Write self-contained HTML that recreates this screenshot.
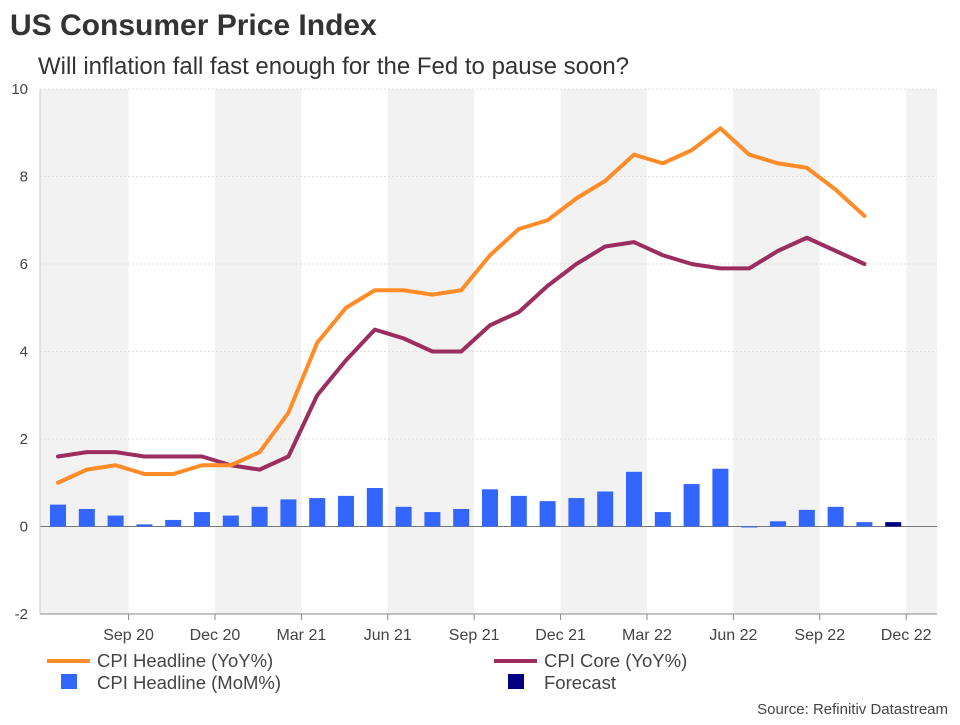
<!DOCTYPE html>
<html><head><meta charset="utf-8"><style>
body{margin:0;background:#fff;font-family:"Liberation Sans",Arial,sans-serif;}
svg text{font-family:"Liberation Sans",Arial,sans-serif;}
</style></head><body>
<svg id="chart" width="960" height="720" xmlns="http://www.w3.org/2000/svg">
<text x="10" y="35" font-size="30" font-weight="bold" fill="#333">US Consumer Price Index</text>
<text x="38" y="74" font-size="24" fill="#333">Will inflation fall fast enough for the Fed to pause soon?</text>
<g id="bands"></g><g id="grid"></g><g id="bars"></g><g id="lines"></g><g id="axes"></g>
<g>
<line x1="47" y1="661" x2="90" y2="661" stroke="#FF8C28" stroke-width="4"/>
<text x="97" y="667" font-size="18.5" fill="#444">CPI Headline (YoY%)</text>
<rect x="61" y="674" width="16" height="15" fill="#3366FF"/>
<text x="97" y="689" font-size="18.5" fill="#444">CPI Headline (MoM%)</text>
<line x1="494" y1="661" x2="537" y2="661" stroke="#9B2D5F" stroke-width="4"/>
<text x="544" y="667" font-size="18.5" fill="#444">CPI Core (YoY%)</text>
<rect x="508" y="674" width="16" height="15" fill="#000080"/>
<text x="544" y="689" font-size="18.5" fill="#444">Forecast</text>
</g>
<text x="948" y="714" font-size="15" fill="#444" text-anchor="end">Source: Refinitiv Datastream</text>
</svg>
<script>
const headlineYoY=[1.0,1.3,1.4,1.2,1.2,1.4,1.4,1.7,2.6,4.2,5.0,5.4,5.4,5.3,5.4,6.2,6.8,7.0,7.5,7.9,8.5,8.3,8.6,9.1,8.5,8.3,8.2,7.7,7.1];
const coreYoY=[1.6,1.7,1.7,1.6,1.6,1.6,1.4,1.3,1.6,3.0,3.8,4.5,4.3,4.0,4.0,4.6,4.9,5.5,6.0,6.4,6.5,6.2,6.0,5.9,5.9,6.3,6.6,6.3,6.0];
const headlineMoM=[0.5,0.4,0.25,0.05,0.15,0.33,0.25,0.45,0.62,0.65,0.7,0.88,0.45,0.33,0.4,0.85,0.7,0.58,0.65,0.8,1.25,0.33,0.97,1.32,-0.02,0.12,0.38,0.45,0.1];
const forecastMoM=[0.1];
const yTicks=[-2,0,2,4,6,8,10];
const xTickLabels=["Sep 20","Dec 20","Mar 21","Jun 21","Sep 21","Dec 21","Mar 22","Jun 22","Sep 22","Dec 22"];
const NS="http://www.w3.org/2000/svg";
const L=40,R=937,T=89,B=614;
const y=v=>526.5-v*43.75;
const x=i=>58+28.8*i;
function mk(tag,attrs,parent){const e=document.createElementNS(NS,tag);for(const k in attrs)e.setAttribute(k,attrs[k]);document.getElementById(parent).appendChild(e);return e;}
const tickX=xTickLabels.map((_,k)=>x(2.45+3*k));
const edges=[L,...tickX,R];
for(let k=0;k<edges.length-1;k+=2){
 const r=mk('rect',{x:edges[k],y:T,width:edges[k+1]-edges[k],height:B-T,fill:'#F2F2F2'},'bands');
 
 
}
yTicks.forEach(v=>{
 const g=mk('line',{x1:L,x2:R,y1:y(v),y2:y(v),stroke:v===0?'#777':'#e0e0e0','stroke-width':1,'stroke-dasharray':v===0?'':'2,2'},'grid');
 
 
 const t=mk('text',{x:28,y:y(v)+5,'font-size':15,fill:'#444','text-anchor':'end'},'axes');
 t.textContent=v;
 
 
});
headlineMoM.forEach((v,i)=>{
 const r=mk('rect',{x:x(i)-8,y:Math.min(y(v),y(0)),width:16,height:Math.max(Math.abs(y(v)-y(0)),1),fill:'#3366FF'},'bars');
 
 
});
forecastMoM.forEach((v,j)=>{
 const i=headlineMoM.length+j;
 const r=mk('rect',{x:x(i)-8,y:Math.min(y(v),y(0)),width:16,height:Math.max(Math.abs(y(v)-y(0)),1),fill:'#000080'},'bars');
 
 
});
function line(data,color,name){
 const p=mk('polyline',{points:data.map((v,i)=>x(i)+','+y(v)).join(' '),fill:'none',stroke:color,'stroke-width':4,'stroke-linejoin':'round','stroke-linecap':'round'},'lines');
 
 
}
line(coreYoY,'#9B2D5F','line-core-yoy');
line(headlineYoY,'#FF8C28','line-headline-yoy');
const ax=mk('line',{x1:L,x2:R,y1:B,y2:B,stroke:'#888','stroke-width':1},'axes');


const ay=mk('line',{x1:L,x2:L,y1:T,y2:B,stroke:'#ccc','stroke-width':1},'axes');


xTickLabels.forEach((s,k)=>{
 const tx=tickX[k];
 const tm=mk('line',{x1:tx,x2:tx,y1:B,y2:B+6,stroke:'#888'},'axes');
 
 
 const t=mk('text',{x:tx,y:640,'font-size':16,fill:'#444','text-anchor':'middle'},'axes');
 t.textContent=s;
 
 
});
</script>
</body></html>
